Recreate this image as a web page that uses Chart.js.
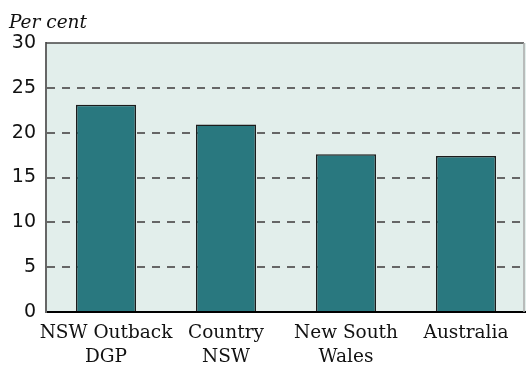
<!DOCTYPE html>
<html>
<head>
<meta charset="utf-8">
<script src="https://cdn.jsdelivr.net/npm/chart.js@4/dist/chart.umd.min.js"></script>
<style>
  html, body { margin: 0; padding: 0; background: #fff; }
  #wrap { width: 526px; height: 370px; }
</style>
</head>
<body>
<div id="wrap"><canvas id="chart"></canvas></div>
<script>
const regions = [['NSW Outback', 'DGP'], ['Country', 'NSW'], ['New South', 'Wales'], ['Australia']];
const shares = [23.1, 20.9, 17.6, 17.4];
const yTicks = [0, 5, 10, 15, 20, 25, 30];

// shaded plot background plus the top and right frame lines
const plotFrame = {
  id: 'plotFrame',
  beforeDraw(chart) {
    const { ctx, chartArea: a } = chart;
    ctx.save();
    ctx.fillStyle = '#e2eeeb';
    ctx.fillRect(a.left, a.top, a.right - a.left, a.bottom - a.top);
    ctx.restore();
  },
  afterDraw(chart) {
    const { ctx, chartArea: a } = chart;
    ctx.save();
    ctx.lineWidth = 1.5;
    ctx.strokeStyle = '#444';
    ctx.beginPath();
    ctx.moveTo(a.left, a.top);
    ctx.lineTo(a.right - 2, a.top);
    ctx.stroke();
    ctx.strokeStyle = '#aaa';
    ctx.beginPath();
    ctx.moveTo(a.right - 2, a.top);
    ctx.lineTo(a.right - 2, a.bottom);
    ctx.stroke();
    // unit label above the y axis
    ctx.fillStyle = '#111';
    ctx.font = 'italic 18.5px "DejaVu Serif"';
    ctx.textBaseline = 'alphabetic';
    ctx.fillText('Per cent', 9, 28);
    ctx.restore();
  }
};

new Chart(document.getElementById('chart'), {
  type: 'bar',
  data: {
    labels: regions,
    datasets: [{
      data: shares,
      backgroundColor: '#29787f',
      borderColor: '#1c1c1c',
      borderWidth: 1.5,
      borderSkipped: 'bottom',
      barPercentage: 0.5,
      categoryPercentage: 1.0
    }]
  },
  options: {
    responsive: true,
    maintainAspectRatio: false,
    animation: false,
    layout: { padding: { top: 43, right: 0, left: 0, bottom: 0 } },
    plugins: {
      legend: { display: false },
      tooltip: { enabled: false }
    },
    scales: {
      x: {
        grid: { display: false },
        border: { display: true, color: '#000', width: 2 },
        ticks: {
          color: '#111',
          font: { family: '"DejaVu Serif"', size: 18.5, lineHeight: 1.32 },
          padding: 1,
          maxRotation: 0,
          autoSkip: false
        },
        afterFit(scale) { scale.height = 58; }
      },
      y: {
        min: 0,
        max: 30,
        afterBuildTicks(scale) { scale.ticks = yTicks.map(v => ({ value: v })); },
        grid: {
          drawTicks: false,
          lineWidth: 2,
          color: ctx => (ctx.tick && (ctx.tick.value === 0 || ctx.tick.value === 30)) ? 'rgba(0,0,0,0)' : '#666'
        },
        border: { display: true, color: '#666', width: 2, dash: [8, 7] },
        ticks: {
          color: '#111',
          font: { family: '"DejaVu Sans"', size: 19 },
          padding: 10
        },
        afterFit(scale) { scale.width = 46; }
      }
    }
  },
  plugins: [plotFrame]
});
</script>
</body>
</html>
